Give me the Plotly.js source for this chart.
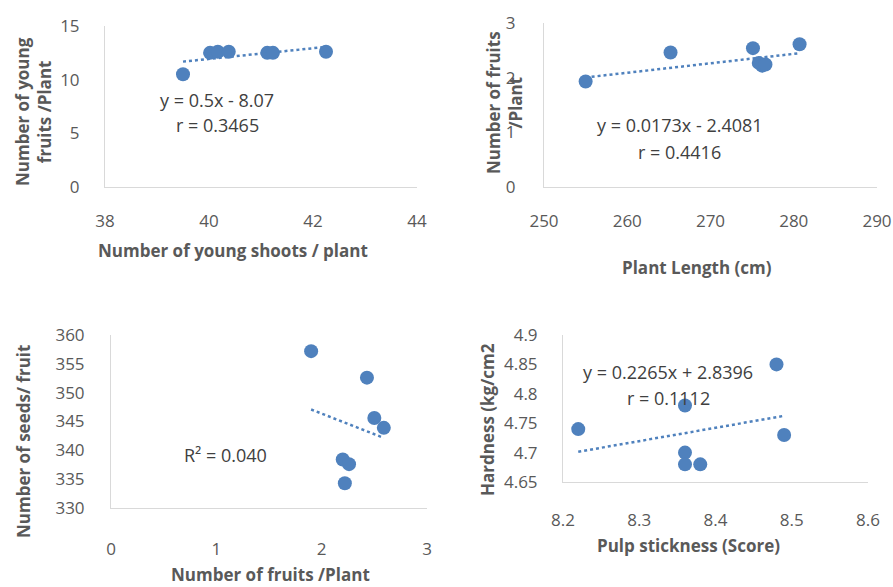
<!DOCTYPE html>
<html>
<head>
<meta charset="utf-8">
<script src="https://cdn.plot.ly/plotly-3.0.1.min.js"></script>
<style>html,body{margin:0;padding:0;background:#fff;}#chart{width:893px;height:587px;}</style>
</head>
<body>
<div id="chart"></div>
<script>
// ---- Data ----
const shootsX = [39.5, 40.02, 40.17, 40.38, 41.12, 41.23, 42.25];
const youngFruitsY = [10.5, 12.5, 12.6, 12.6, 12.5, 12.5, 12.6];
const fit1 = [0.5, -8.07];

const plantLengthX = [255.0, 265.2, 275.1, 275.8, 276.2, 276.6, 280.7];
const fruitsY = [1.93, 2.46, 2.54, 2.27, 2.22, 2.24, 2.61];
const fit2 = [0.0173, -2.4081];

const fruitsX = [1.9, 2.43, 2.5, 2.59, 2.2, 2.26, 2.22];
const seedsY = [357.2, 352.6, 345.6, 343.9, 338.4, 337.6, 334.3];

const stickX = [8.22, 8.36, 8.36, 8.36, 8.38, 8.48, 8.49];
const hardY = [4.74, 4.78, 4.70, 4.68, 4.68, 4.85, 4.73];
const fit4 = [0.2265, 2.8396];

const labels = {
  t1: ['y = 0.5x - 8.07', 'r = 0.3465'],
  t2: ['y = 0.0173x - 2.4081', 'r = 0.4416'],
  t3: ['R² = 0.040'],
  t4: ['y = 0.2265x + 2.8396', 'r = 0.1112']
};

// ---- helpers ----
function lsq(xs, ys) {
  const n = xs.length;
  const mx = xs.reduce((a, b) => a + b, 0) / n;
  const my = ys.reduce((a, b) => a + b, 0) / n;
  let sxy = 0, sxx = 0;
  for (let i = 0; i < n; i++) { sxy += (xs[i] - mx) * (ys[i] - my); sxx += (xs[i] - mx) ** 2; }
  const m = sxy / sxx;
  return [m, my - m * mx];
}
function trend(xs, fit) {
  const x0 = Math.min(...xs), x1 = Math.max(...xs);
  return { x: [x0, x1], y: [fit[0] * x0 + fit[1], fit[0] * x1 + fit[1]] };
}
const fit3 = lsq(fruitsX, seedsY);

const blue = '#4F81BD';
const W = 893, H = 587;
const FONT = 'Open Sans, Lato, sans-serif';
const tickFont = { family: FONT, size: 17, color: '#595959' };
const mk = { color: blue, size: 14 };

function scatter(x, y, xa, ya) {
  return { type: 'scatter', mode: 'markers', x, y, xaxis: xa, yaxis: ya, marker: mk, hoverinfo: 'x+y', showlegend: false };
}
function line(t, xa, ya) {
  return { type: 'scatter', mode: 'lines', x: t.x, y: t.y, xaxis: xa, yaxis: ya, line: { color: blue, width: 2.5, dash: 'dot' }, showlegend: false, hoverinfo: 'skip' };
}

const data = [
  line(trend(shootsX, fit1), 'x', 'y'), scatter(shootsX, youngFruitsY, 'x', 'y'),
  line(trend(plantLengthX, fit2), 'x2', 'y2'), scatter(plantLengthX, fruitsY, 'x2', 'y2'),
  line(trend(fruitsX, fit3), 'x3', 'y3'), scatter(fruitsX, seedsY, 'x3', 'y3'),
  line(trend(stickX, fit4), 'x4', 'y4'), scatter(stickX, hardY, 'x4', 'y4')
];

function px(a, b) { return [a / W, b / W]; }
function py(top, bottom) { return [1 - bottom / H, 1 - top / H]; }

function ax(dom, range, dtick, anchor, tl) {
  return { domain: dom, range, dtick, tick0: range[0], anchor, showgrid: false, zeroline: false,
    showline: true, linecolor: '#D9D9D9', linewidth: 1, ticks: 'outside', ticklen: tl, tickcolor: 'rgba(0,0,0,0)',
    tickfont: tickFont, fixedrange: true };
}

const titleFont = { family: FONT, size: 17, color: '#595959', weight: 'bold' };
const annFont = { family: FONT, size: 18, color: '#404040' };

function ann(text, x, y, font, angle) {
  return { text, x: x / W, y: 1 - y / H, xref: 'paper', yref: 'paper', showarrow: false,
    font, textangle: angle || 0, xanchor: 'center', yanchor: 'middle' };
}

const layout = {
  width: W, height: H, margin: { l: 0, r: 0, t: 0, b: 0 },
  paper_bgcolor: '#fff', plot_bgcolor: 'rgba(0,0,0,0)', showlegend: false,
  xaxis: ax(px(105, 417), [38, 44], 2, 'y', 19),
  yaxis: ax(py(26, 187), [0, 15], 5, 'x', 21),
  xaxis2: ax(px(544, 877), [250, 290], 10, 'y2', 19),
  yaxis2: ax(py(23, 187), [0, 3], 1, 'x2', 24),
  xaxis3: ax(px(111, 427), [0, 3], 1, 'y3', 26),
  yaxis3: ax(py(335, 508), [330, 360], 5, 'x3', 22),
  xaxis4: ax(px(563, 868), [8.2, 8.6], 0.1, 'y4', 23),
  yaxis4: ax(py(335, 482), [4.65, 4.9], 0.05, 'x4', 21),
  annotations: [
    ann('Number of young shoots / plant', 233, 250, titleFont),
    ann('Number of young<br>fruits /Plant', 33, 112, titleFont, -90),
    ann(labels.t1[0], 217, 100, annFont),
    ann(labels.t1[1], 217, 125, annFont),

    ann('Plant Length (cm)', 697, 267, titleFont),
    ann('Number of fruits<br>/Plant', 504, 102, titleFont, -90),
    ann(labels.t2[0], 680, 125, annFont),
    ann(labels.t2[1], 679, 152, annFont),

    ann('Number of fruits /Plant', 270, 574, titleFont),
    ann('Number of seeds/ fruit', 23, 442, titleFont, -90),
    ann(labels.t3[0], 225, 455, annFont),

    ann('Pulp stickness (Score)', 688, 545, titleFont),
    ann('Hardness (kg/cm2', 487, 420, titleFont, -90),
    ann(labels.t4[0], 668, 372, annFont),
    ann(labels.t4[1], 668, 398, annFont)
  ]
};

Plotly.newPlot('chart', data, layout, { staticPlot: true, displayModeBar: false });
</script>
</body>
</html>
